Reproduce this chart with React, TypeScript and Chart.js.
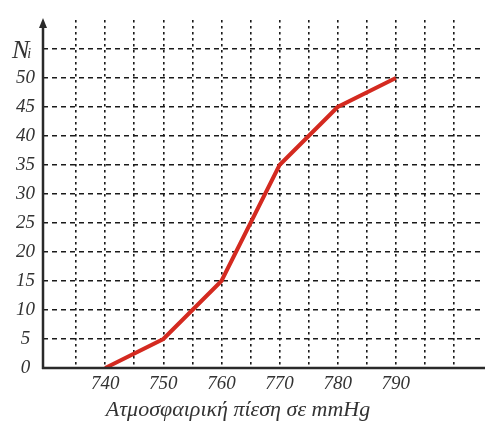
import React, { useEffect, useRef } from "react";
import { Chart, registerables } from "chart.js";

Chart.register(...registerables);

const pressure = [740, 750, 760, 770, 780, 790];
const counts = [0, 5, 15, 35, 45, 50];
const xGridTicks = [735, 740, 745, 750, 755, 760, 765, 770, 775, 780, 785, 790, 795, 800];
const xLabelTicks = [740, 750, 760, 770, 780, 790];
const yLabelTicks = [0, 5, 10, 15, 20, 25, 30, 35, 40, 45, 50];
const yAxisName = "N";
const yAxisSub = "i";
const xAxisTitle = "Ατμοσφαιρική πίεση σε mmHg";

const SERIF = "'Liberation Serif', 'DejaVu Serif', serif";

const overlay = {
  id: "overlay",
  afterDraw(chart: any) {
    const { ctx, chartArea, scales } = chart;
    const x0 = chartArea.left;
    const y0 = scales.y.getPixelForValue(0);
    ctx.save();
    ctx.strokeStyle = "#2a2a2a";
    ctx.fillStyle = "#2a2a2a";
    ctx.lineWidth = 2.5;
    ctx.setLineDash([]);
    // y axis
    ctx.beginPath();
    ctx.moveTo(x0, y0 + 1);
    ctx.lineTo(x0, chartArea.top + 6);
    ctx.stroke();
    // arrow
    ctx.beginPath();
    ctx.moveTo(x0, chartArea.top - 2);
    ctx.lineTo(x0 - 4, chartArea.top + 8);
    ctx.lineTo(x0 + 4, chartArea.top + 8);
    ctx.closePath();
    ctx.fill();
    // x axis
    ctx.beginPath();
    ctx.moveTo(x0 - 1, y0);
    ctx.lineTo(chart.width, y0);
    ctx.stroke();
    // N_i
    ctx.fillStyle = "#333";
    const yN = scales.y.getPixelForValue(55);
    ctx.font = `italic 26px ${SERIF}`;
    ctx.textAlign = "left";
    ctx.textBaseline = "alphabetic";
    ctx.fillText(yAxisName, 12, yN + 9);
    const nW = ctx.measureText(yAxisName).width;
    ctx.font = `italic 14px ${SERIF}`;
    ctx.fillText(yAxisSub, 12 + nW - 2, yN + 9);
    // title
    ctx.font = `italic 22px ${SERIF}`;
    ctx.textAlign = "center";
    ctx.fillText(xAxisTitle, 238, 416);
    ctx.restore();
  },
};

export default function App() {
  const ref = useRef<HTMLCanvasElement>(null);
  useEffect(() => {
    document.body.style.margin = "0";
    const chart = new Chart(ref.current!, {
      type: "line",
      data: {
        datasets: [
          {
            data: pressure.map((p, i) => ({ x: p, y: counts[i] })),
            borderColor: "#d42a20",
            borderWidth: 4,
            pointRadius: 0,
            tension: 0,
            fill: false,
          },
        ],
      },
      options: {
        animation: false,
        responsive: false,
        devicePixelRatio: 1,
        layout: { padding: { top: 20, right: 2, left: 0, bottom: 0 } },
        plugins: { legend: { display: false }, tooltip: { enabled: false } },
        scales: {
          x: {
            type: "linear",
            min: 729.3,
            max: 805,
            afterBuildTicks: (scale: any) => {
              scale.ticks = xGridTicks.map((v) => ({ value: v }));
            },
            afterFit: (scale: any) => {
              scale.height = 59;
            },
            ticks: {
              autoSkip: false,
              maxRotation: 0,
              padding: 5,
              color: "#333",
              font: { family: SERIF, size: 19, style: "italic" },
              callback: (v: any) => (xLabelTicks.includes(Number(v)) ? String(v) : ""),
            },
            grid: {
              color: "#1a1a1a",
              lineWidth: 1.6,
              drawTicks: false,
            },
            border: { display: false, dash: [2.5, 3.5] },
          },
          y: {
            type: "linear",
            min: 0,
            max: 60,
            afterBuildTicks: (scale: any) => {
              const t: any[] = [];
              for (let v = 0; v <= 60; v += 5) t.push({ value: v });
              scale.ticks = t;
            },
            afterFit: (scale: any) => {
              scale.width = 43;
            },
            ticks: {
              autoSkip: false,
              padding: 8,
              crossAlign: "center",
              color: "#333",
              font: { family: SERIF, size: 19, style: "italic" },
              callback: (v: any) => (yLabelTicks.includes(Number(v)) ? String(v) : ""),
            },
            grid: {
              color: (c: any) => (c.tick && (c.tick.value === 0 || c.tick.value === 60) ? "rgba(0,0,0,0)" : "#1a1a1a"),
              lineWidth: 1.6,
              drawTicks: false,
            },
            border: { display: false, dash: [5, 4] },
          },
        },
      },
      plugins: [overlay],
    });
    return () => chart.destroy();
  }, []);
  return (
    <div style={{ position: "absolute", left: 0, top: 0, width: 485, height: 427, background: "#fff" }}>
      <canvas ref={ref} width={485} height={427} style={{ width: 485, height: 427 }} />
    </div>
  );
}
